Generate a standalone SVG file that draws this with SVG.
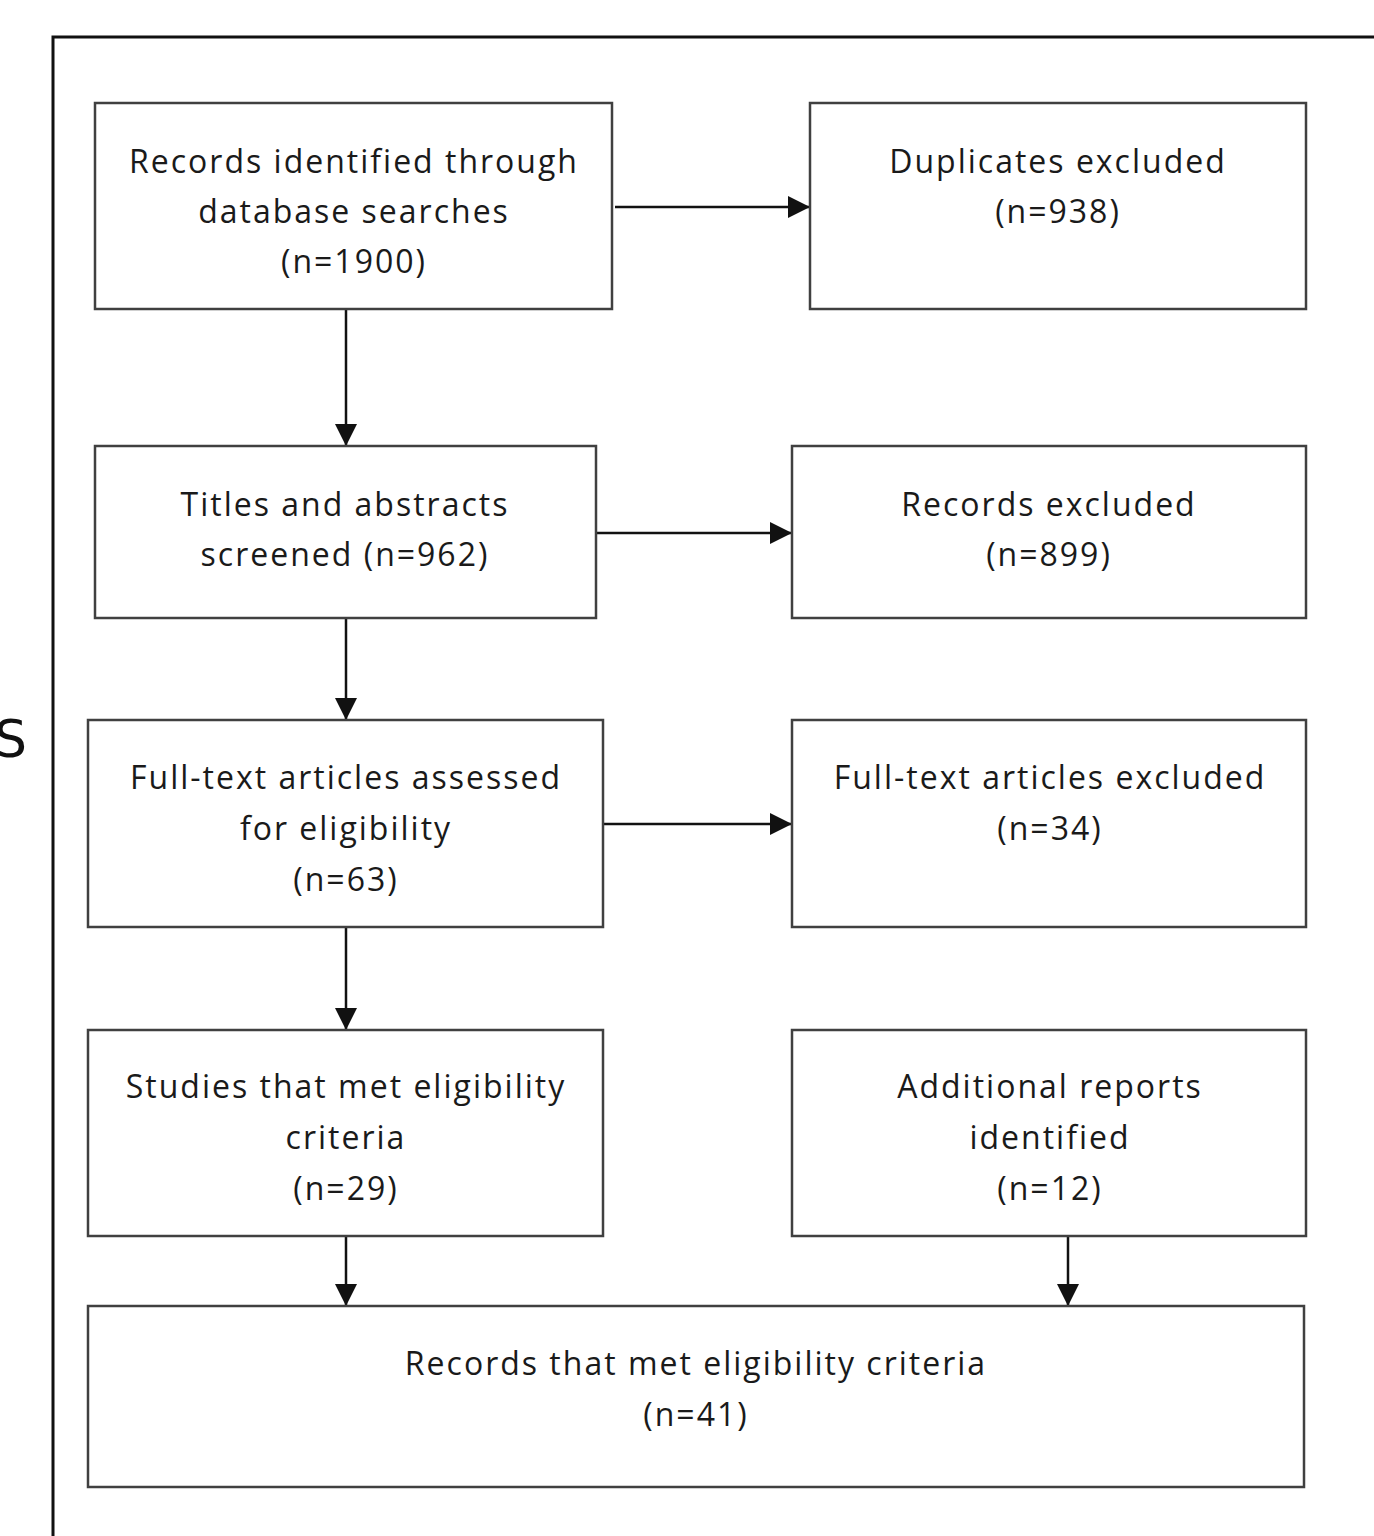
<svg xmlns="http://www.w3.org/2000/svg" width="1374" height="1536" viewBox="0 0 1374 1536">
<defs>
<style>
.box{fill:#fff;stroke:#404040;stroke-width:2.5}
.t{font-family:"Open Sans","Noto Sans",sans-serif;font-size:32px;letter-spacing:2px;fill:#1a1a1a;text-anchor:middle}
.c{stroke:#111;stroke-width:2.5;fill:none;marker-end:url(#ahb)}
</style>
<marker id="ahb" viewBox="0 0 22 22" refX="22" refY="11" markerWidth="22" markerHeight="22" orient="auto" markerUnits="userSpaceOnUse">
<path d="M0,0 L22,11 L0,22 z" fill="#111"/>
</marker>
</defs>
<rect width="1374" height="1536" fill="#fff"/>
<path d="M53,1536 L53,37 L1374,37" fill="none" stroke="#111" stroke-width="3"/>
<text x="-6" y="757" style="font-family:'DejaVu Sans',sans-serif;font-size:52px;fill:#111">S</text>

<g id="connectors">
<line class="c" x1="346" y1="309" x2="346" y2="446"/>
<line class="c" x1="346" y1="618" x2="346" y2="720"/>
<line class="c" x1="346" y1="927" x2="346" y2="1030"/>
<line class="c" x1="346" y1="1236" x2="346" y2="1306"/>
<line class="c" x1="1068" y1="1236" x2="1068" y2="1306"/>
<line class="c" x1="615" y1="207" x2="810" y2="207"/>
<line class="c" x1="596" y1="533" x2="792" y2="533"/>
<line class="c" x1="603" y1="824" x2="792" y2="824"/>
</g>

<g id="n1"><rect class="box" x="95" y="103" width="517" height="206"/>
<text class="t" x="354" y="173">Records identified through</text>
<text class="t" x="354" y="223">database searches</text>
<text class="t" x="354" y="273">(n=1900)</text></g>

<g id="n2"><rect class="box" x="810" y="103" width="496" height="206"/>
<text class="t" x="1058" y="173">Duplicates excluded</text>
<text class="t" x="1058" y="223">(n=938)</text></g>

<g id="n3"><rect class="box" x="95" y="446" width="501" height="172"/>
<text class="t" x="345" y="516">Titles and abstracts</text>
<text class="t" x="345" y="566">screened (n=962)</text></g>

<g id="n4"><rect class="box" x="792" y="446" width="514" height="172"/>
<text class="t" x="1049" y="516">Records excluded</text>
<text class="t" x="1049" y="566">(n=899)</text></g>

<g id="n5"><rect class="box" x="88" y="720" width="515" height="207"/>
<text class="t" x="346" y="789">Full-text articles assessed</text>
<text class="t" x="346" y="840">for eligibility</text>
<text class="t" x="346" y="891">(n=63)</text></g>

<g id="n6"><rect class="box" x="792" y="720" width="514" height="207"/>
<text class="t" x="1050" y="789">Full-text articles excluded</text>
<text class="t" x="1050" y="840">(n=34)</text></g>

<g id="n7"><rect class="box" x="88" y="1030" width="515" height="206"/>
<text class="t" x="346" y="1098">Studies that met eligibility</text>
<text class="t" x="346" y="1149">criteria</text>
<text class="t" x="346" y="1200">(n=29)</text></g>

<g id="n8"><rect class="box" x="792" y="1030" width="514" height="206"/>
<text class="t" x="1050" y="1098">Additional reports</text>
<text class="t" x="1050" y="1149">identified</text>
<text class="t" x="1050" y="1200">(n=12)</text></g>

<g id="n9"><rect class="box" x="88" y="1306" width="1216" height="181"/>
<text class="t" x="696" y="1375">Records that met eligibility criteria</text>
<text class="t" x="696" y="1426">(n=41)</text></g>
</svg>
